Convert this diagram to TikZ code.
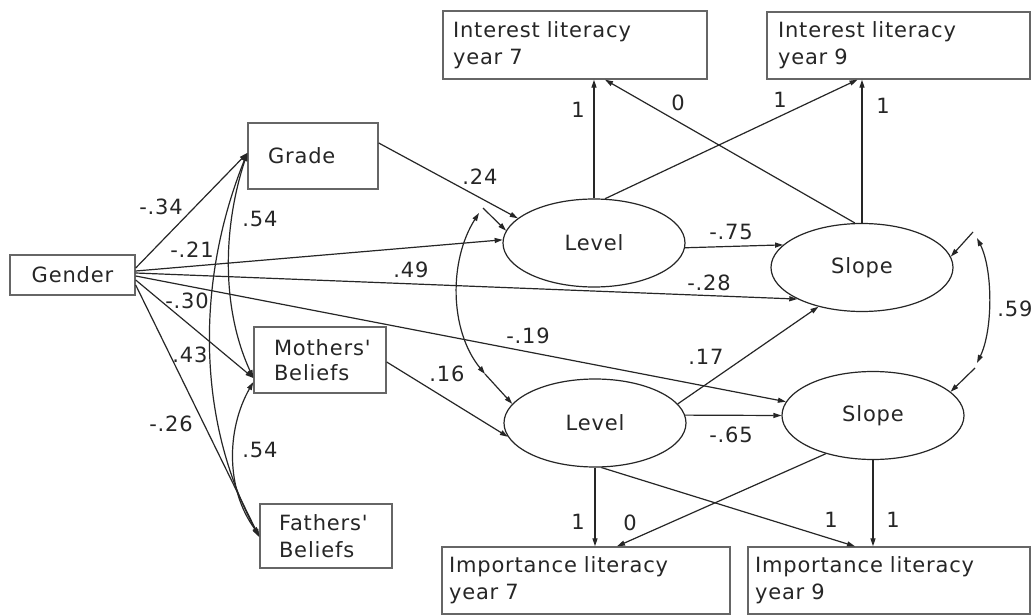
\documentclass[tikz,border=0pt]{standalone}
\usepackage{fontspec}
\setmainfont{DejaVu Sans}[LetterSpace=4,Ligatures=TeXOff]
\usetikzlibrary{arrows.meta,shapes.geometric}
\begin{document}
\begin{tikzpicture}[x=1pt,y=-1pt,
  every node/.style={font=\fontsize{21}{27}\selectfont, text=black!85},
  box/.style={draw=black!60, line width=1.4pt, rectangle, align=left, inner ysep=0pt},
  lat/.style={ellipse, draw=black!85, line width=1.2pt, minimum width=182pt, minimum height=88pt, inner sep=0pt},
  lab/.style={inner sep=0pt},
  conn/.style={draw=black!85, line width=1.2pt, -{Triangle[length=8pt,width=5pt]}},
  dconn/.style={draw=black!85, line width=1.2pt, {Triangle[length=8pt,width=5pt]}-{Triangle[length=8pt,width=5pt]}}
]
\fill[white] (0,0) rectangle (1031,615);
\useasboundingbox (0,0) rectangle (1031,615);

% observed boxes
\node[box, align=center, text width=105pt, inner xsep=10pt, minimum height=40pt] (gender) at (72.5,275) {Gender};
\node[box, text width=90pt, inner xsep=20pt, minimum height=66pt] (grade) at (313,156) {Grade};
\node[box, text width=92pt, inner xsep=20pt, minimum height=66pt, font=\fontsize{21}{25}\selectfont] (moth) at (320,360) {Mothers'\\Beliefs};
\node[box, text width=94pt, inner xsep=19pt, minimum height=64pt] (fath) at (326,536) {Fathers'\\Beliefs};
\node[box, text width=244pt, inner xsep=10pt, minimum height=68pt] (int7) at (575,45) {Interest literacy\\year 7};
\node[box, text width=241pt, inner xsep=11pt, minimum height=67pt] (int9) at (898.5,45.5) {Interest literacy\\year 9};
\node[box, text width=274pt, inner xsep=7pt, minimum height=67pt] (imp7) at (586,580.5) {Importance literacy\\year 7};
\node[box, text width=268pt, inner xsep=7pt, minimum height=67pt] (imp9) at (889,580.5) {Importance literacy\\year 9};

% latent ellipses
\node[lat] (lev1) at (594,243) {Level};
\node[lat] (slo1) at (862,267.5) {Slope};
\node[lat] (lev2) at (595,423) {Level};
\node[lat] (slo2) at (873,415.5) {Slope};

% helper points for covariance arcs
\coordinate (la) at (479,213);
\coordinate (la2) at (483,208);
\coordinate (lb) at (485,374);
\coordinate (sa) at (977,238);
\coordinate (sa2) at (973,232);
\coordinate (sb) at (977,363);
\coordinate (sb2) at (975,368);

% Gender paths
\draw[conn] ([yshift=7pt]gender.east) -- ([yshift=3pt]grade.west);
\draw[conn] ([yshift=4pt]gender.east) -- (lev1.178);
\draw[conn] ([yshift=2pt]gender.east) -- (slo1.206);
\draw[conn] ([yshift=-1pt]gender.east) -- (slo2.171);
\draw[conn] ([yshift=-5pt]gender.east) -- ([yshift=-18pt]moth.west);
\draw[conn] ([yshift=-10pt]gender.east) -- ([yshift=-1pt]fath.west);

% correlations among predictors
\draw[dconn] ([yshift=3pt]grade.west) .. controls (222,230) and (222,310) .. ([yshift=-18pt]moth.west);
\draw[dconn] ([yshift=3pt]grade.west) .. controls (196,280) and (196,420) .. ([yshift=-1pt]fath.west);
\draw[dconn] ([yshift=-22pt]moth.west) .. controls (226,430) and (226,490) .. ([yshift=1pt]fath.west);

% predictors to latents
\draw[conn] ([yshift=13pt]grade.east) -- (lev1.162);
\draw[conn] ([yshift=-2pt]moth.east) -- (lev2.189);

% latent to latent
\draw[conn] (lev1.357) -- (slo1.164);
\draw[conn] (lev2.5) -- (slo2.west);
\draw[conn] (lev2.13) -- (slo1.222);

% loadings top
\draw[conn] (lev1.north) -- (lev1.north |- int7.south);
\draw[conn] (lev1.76) -- ([xshift=-41pt]int9.south);
\draw[conn] (slo1.99) -- ([xshift=30pt]int7.south);
\draw[conn] (slo1.north) -- (slo1.north |- int9.south);

% loadings bottom
\draw[conn] (lev2.south) -- (lev2.south |- imp7.north);
\draw[conn] (lev2.278) -- ([xshift=-34pt]imp9.north);
\draw[conn] (slo2.219) -- ([xshift=31pt]imp7.north);
\draw[conn] (slo2.south) -- (slo2.south |- imp9.north);

% covariance between levels
\draw[dconn] (la) .. controls (449,260) and (449,330) .. (lb);
\draw[conn] (la2) -- (lev1.172);
\draw[conn] (lb) -- (lev2.167);

% covariance between slopes
\draw[dconn] (sa) .. controls (993,270) and (993,330) .. (sb);
\draw[conn] (sa2) -- (slo1.7);
\draw[conn] (sb2) -- (slo2.17);

% coefficient labels
\node[lab] (c1) at (161,207) {-.34};
\node[lab] (c2) at (192,250) {-.21};
\node[lab] (c3) at (260,219) {.54};
\node[lab] (c4) at (187,301) {-.30};
\node[lab] (c5) at (190,355) {.43};
\node[lab] (c6) at (171,424) {-.26};
\node[lab] (c7) at (260,450) {.54};
\node[lab] (c8) at (411,270) {.49};
\node[lab] (c9) at (480,177) {.24};
\node[lab] (c10) at (731,232) {-.75};
\node[lab] (c11) at (709,283) {-.28};
\node[lab] (c12) at (528,336) {-.19};
\node[lab] (c13) at (447,374) {.16};
\node[lab] (c14) at (706,357) {.17};
\node[lab] (c15) at (731,435) {-.65};
\node[lab] (c16) at (1015,309) {.59};
\node[lab] (c17) at (578,110) {1};
\node[lab] (c18) at (780,100) {1};
\node[lab] (c19) at (678,103) {0};
\node[lab] (c20) at (883,106) {1};
\node[lab] (c21) at (578,522) {1};
\node[lab] (c22) at (630,523) {0};
\node[lab] (c23) at (831,520) {1};
\node[lab] (c24) at (893,520) {1};
\end{tikzpicture}
\end{document}
